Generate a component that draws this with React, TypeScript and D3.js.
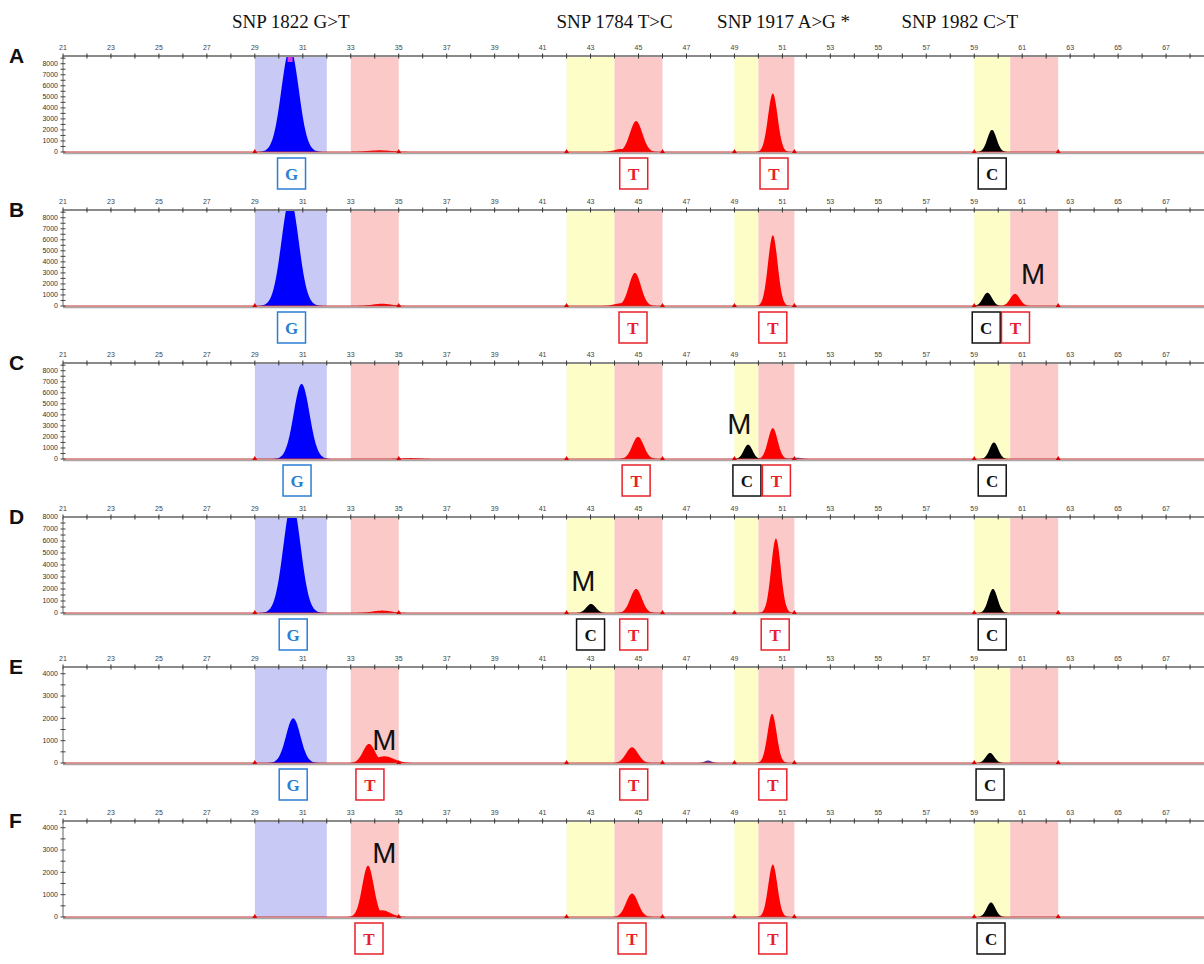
import React from "react";
import * as d3 from "d3";

// SNP titles over the lanes: [label, centre position]
const snpTitles: [string, number][] = [
  ["SNP 1822 G>T", 30.5],
  ["SNP 1784 T>C", 44.0],
  ["SNP 1917 A>G *", 51.05],
  ["SNP 1982 C>T", 58.4],
];

const panelLetters = ["A", "B", "C", "D", "E", "F"];
const yMaxima = [8700, 8700, 8700, 8000, 4300, 4300];
const yTicksBig = [0, 1000, 2000, 3000, 4000, 5000, 6000, 7000, 8000];
const yTicksSmall = [0, 1000, 2000, 3000, 4000];
const xTickLabels = [21, 23, 25, 27, 29, 31, 33, 35, 37, 39, 41, 43, 45, 47, 49, 51, 53, 55, 57, 59, 61, 63, 65, 67];

// shaded bins: [from, to, base]
const bins: [number, number, string][] = [
  [29, 32, "G"], [33, 35, "T"],
  [42, 44, "C"], [44, 46, "T"],
  [49, 50, "C"], [50, 51.5, "T"],
  [59, 60.5, "C"], [60.5, 62.5, "T"],
];
const binMarkers = [29, 35, 42, 46, 49, 51.5, 59, 62.5];

// peaks per panel: [base, centre, height, sigma]
type Peak = [string, number, number, number];
const peaksA: Peak[] = [
  ["G", 30.47, 9400, 0.36], ["T", 34.2, 150, 0.5],
  ["T", 44.3, 280, 0.3], ["T", 44.9, 2800, 0.26],
  ["T", 50.6, 5300, 0.2], ["C", 59.74, 2000, 0.19],
];
const peaksB: Peak[] = [
  ["G", 30.47, 9700, 0.36], ["T", 34.3, 200, 0.4],
  ["T", 44.3, 250, 0.3], ["T", 44.85, 3000, 0.25],
  ["T", 50.6, 6400, 0.2], ["C", 59.55, 1200, 0.19], ["T", 60.7, 1100, 0.2],
];
const peaksC: Peak[] = [
  ["G", 30.95, 6800, 0.33], ["T", 35.5, 80, 0.4],
  ["T", 44.98, 2000, 0.24], ["C", 49.57, 1300, 0.18],
  ["T", 50.6, 2800, 0.2], ["X", 51.6, 120, 0.2], ["C", 59.82, 1500, 0.18],
];
const peaksD: Peak[] = [
  ["G", 30.55, 9200, 0.36], ["T", 34.3, 200, 0.4],
  ["C", 43.02, 750, 0.2], ["T", 44.9, 2000, 0.24],
  ["T", 50.73, 6200, 0.2], ["C", 59.78, 2000, 0.19],
];
const peaksE: Peak[] = [
  ["G", 30.6, 2000, 0.3], ["T", 33.76, 850, 0.25], ["T", 34.4, 300, 0.4],
  ["T", 44.73, 700, 0.25], ["X", 47.9, 110, 0.15],
  ["T", 50.57, 2200, 0.19], ["C", 59.66, 450, 0.18],
];
const peaksF: Peak[] = [
  ["T", 33.72, 2300, 0.24], ["T", 34.3, 300, 0.35],
  ["T", 44.73, 1050, 0.25], ["T", 50.6, 2350, 0.19], ["C", 59.7, 650, 0.18],
];
const panelPeaks = [peaksA, peaksB, peaksC, peaksD, peaksE, peaksF];

// base calls under each panel: [base, position]
type Call = [string, number];
const callsA: Call[] = [["G", 30.53], ["T", 44.8], ["T", 50.65], ["C", 59.75]];
const callsB: Call[] = [["G", 30.53], ["T", 44.77], ["T", 50.6], ["C", 59.5], ["T", 60.72]];
const callsC: Call[] = [["G", 30.76], ["T", 44.9], ["C", 49.52], ["T", 50.75], ["C", 59.75]];
const callsD: Call[] = [["G", 30.6], ["C", 43.0], ["T", 44.8], ["T", 50.7], ["C", 59.75]];
const callsE: Call[] = [["G", 30.6], ["T", 33.8], ["T", 44.8], ["T", 50.6], ["C", 59.66]];
const callsF: Call[] = [["T", 33.76], ["T", 44.73], ["T", 50.6], ["C", 59.7]];
const panelCalls = [callsA, callsB, callsC, callsD, callsE, callsF];

// mutation marks: [panel index, position, value]
const mutations: [number, number, number][] = [
  [1, 61.45, 2000],
  [2, 49.2, 2300],
  [3, 42.7, 1800],
  [4, 34.4, 600],
  [5, 34.4, 2400],
];

const peakColor: Record<string, string> = { G: "#0000ff", T: "#ff0000", C: "#000000", X: "#5a3d9a" };
const binColor: Record<string, string> = { G: "#c9c9f6", T: "#fcc9c9", C: "#fdfdc8" };
const callColor: Record<string, string> = { G: "#2a7fd4", T: "#e8202a", C: "#111111" };

const panelTops = [56, 210, 363, 517, 667, 821];
const plotH = 96;
const W = 1204, H = 964;

const x = d3.scaleLinear().domain([21, 68.5]).range([63, 63 + 47.5 * 23.98]);
const minorX = d3.range(21, 69, 1);

function Panel({ i }: { i: number }) {
  const top = panelTops[i];
  const base = top + plotH;
  const y = d3.scaleLinear().domain([0, yMaxima[i]]).range([base, top]);
  const labels = i < 4 ? yTicksBig : yTicksSmall;
  const minorY = d3.range(0, yMaxima[i], 500);
  const area = d3.area<[number, number]>()
    .x(d => x(d[0]))
    .y0(base)
    .y1(d => y(d[1]))
    .curve(d3.curveMonotoneX);

  return (
    <g>
      <defs>
        <clipPath id={`clip${i}`}>
          <rect x={x(21)} y={top} width={W - x(21)} height={plotH} />
        </clipPath>
      </defs>
      {bins.map(([a, b, k], j) => (
        <rect key={j} x={x(a)} y={top} width={x(b) - x(a)} height={plotH} fill={binColor[k]} />
      ))}
      <g clipPath={`url(#clip${i})`}>
        {panelPeaks[i].map(([k, c, h, s], j) => {
          const pts: [number, number][] = d3.range(c - 4 * s, c + 4 * s, s / 12)
            .map(v => [v, h * Math.exp(-((v - c) ** 2) / (2 * s * s))]);
          return <path key={j} d={area(pts) || ""} fill={peakColor[k]} />;
        })}
      </g>
      {i === 0 && (
        <rect x={x(30.47) - 2.5} y={top} width={5} height={6} fill="#d43be0" />
      )}
      {/* baseline */}
      <line x1={x(21)} x2={W} y1={base + 1.5} y2={base + 1.5} stroke="#a8a8a8" strokeWidth={1.5} />
      <line x1={x(21)} x2={W} y1={base} y2={base} stroke="#c03535" strokeWidth={1} />
      {binMarkers.map((m, j) => (
        <path key={j} d={`M${x(m) - 2.5},${base + 1} L${x(m)},${base - 3} L${x(m) + 2.5},${base + 1} Z`} fill="#e00000" />
      ))}
      {/* top axis */}
      <line x1={x(21)} x2={W} y1={top} y2={top} stroke="#8a8a8a" strokeWidth={2} />
      {minorX.map(v => (
        <line key={v} x1={x(v)} x2={x(v)} y1={top - 2.5} y2={top + 2.5} stroke="#333" strokeWidth={1} />
      ))}
      {xTickLabels.map(v => (
        <text key={v} x={x(v)} y={top - 6} fontSize={7} fill="#444" textAnchor="middle"
          fontFamily="Liberation Sans, Arial, sans-serif">{v}</text>
      ))}
      {/* y axis */}
      <line x1={x(21)} x2={x(21)} y1={top} y2={base} stroke="#666" strokeWidth={1} />
      {minorY.map(v => (
        <line key={v} x1={x(21) - 2.5} x2={x(21) + 2.5} y1={y(v)} y2={y(v)} stroke="#444" strokeWidth={1} />
      ))}
      {labels.map(v => (
        <text key={v} x={x(21) - 5} y={y(v)} dy="0.35em" fontSize={7} fill="#333" textAnchor="end"
          fontFamily="Liberation Sans, Arial, sans-serif">{v}</text>
      ))}
      {/* panel letter */}
      <text x={9} y={top + 7} fontSize={21} fontWeight="bold" fill="#111"
        fontFamily="Liberation Sans, Arial, sans-serif">{panelLetters[i]}</text>
      {/* base calls */}
      {panelCalls[i].map(([k, p], j) => (
        <g key={j}>
          <rect x={x(p) - 14} y={base + 6} width={28} height={31} fill="white" stroke={callColor[k]} strokeWidth={1.5} />
          <text x={x(p)} y={base + 28} fontSize={17} fontWeight="bold" textAnchor="middle" fill={callColor[k]}
            fontFamily="Liberation Serif, Times New Roman, serif">{k}</text>
        </g>
      ))}
    </g>
  );
}

export default function App() {
  return (
    <svg width={W} height={H} style={{ position: "absolute", left: 0, top: 0, background: "white" }}>
      <rect width={W} height={H} fill="white" />
      {snpTitles.map(([t, p]) => (
        <text key={t} x={x(p)} y={28} fontSize={19} textAnchor="middle" fill="#111"
          fontFamily="Liberation Serif, Times New Roman, serif">{t}</text>
      ))}
      {panelLetters.map((_, i) => <Panel key={i} i={i} />)}
      {mutations.map(([pi, p, v], j) => {
        const base = panelTops[pi] + plotH;
        const y = d3.scaleLinear().domain([0, yMaxima[pi]]).range([base, panelTops[pi]]);
        return (
          <text key={j} x={x(p)} y={y(v)} fontSize={29} textAnchor="middle" fill="#111"
            fontFamily="Liberation Sans, Arial, sans-serif">M</text>
        );
      })}
    </svg>
  );
}
